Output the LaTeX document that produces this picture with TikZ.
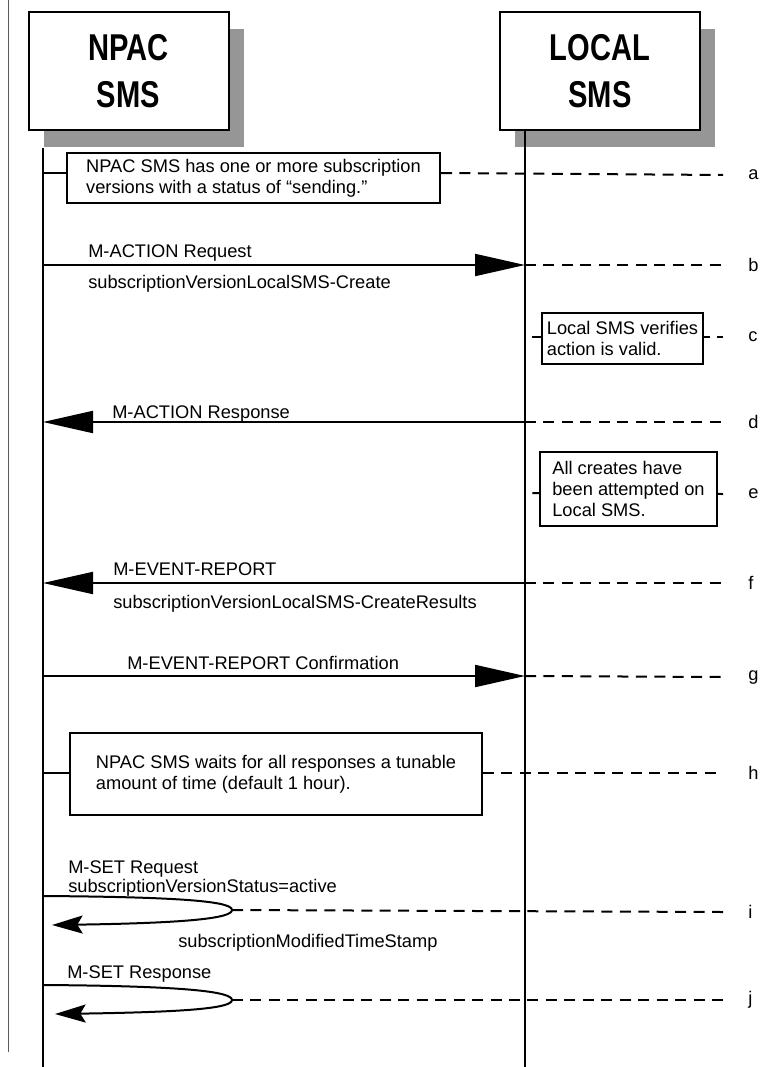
\documentclass[tikz,border=0pt]{standalone}
\usepackage{fontspec}
\setmainfont{Liberation Sans}
\usepackage{graphicx}
\usepackage{xcolor}
\usepackage{tikz}
\usetikzlibrary{arrows.meta, positioning, calc, shadows}
\definecolor{shadowgray}{RGB}{150, 150, 150}
\definecolor{rulegray}{RGB}{90, 90, 90}
\newcommand{\sysname}[1]{\scalebox{0.78}[1]{#1}}

\begin{document}
\begin{tikzpicture}[x=0.75pt, y=-0.75pt,
    font=\fontsize{13.7}{16}\selectfont,
    sysbox/.style={draw, line width=1.5pt, fill=white, minimum width=150pt, minimum height=88.5pt,
                   align=center, font=\bfseries\fontsize{28}{35}\selectfont,
                   drop shadow={shadow xshift=11.25pt, shadow yshift=-12.75pt, fill=shadowgray, opacity=1}},
    notebox/.style={draw, line width=1.5pt, fill=white, align=left, inner sep=2pt},
    lifeline/.style={line width=1.5pt},
    msg/.style={line width=1.5pt, -{Triangle[length=37.5pt, width=16.5pt]}},
    selfmsg/.style={line width=1.5pt, -{Stealth[length=23pt, width=13.5pt, inset=4pt]}},
    guide/.style={line width=1.5pt, dash pattern=on 8.25pt off 5.6pt},
    msgtext/.style={anchor=base west, inner sep=0pt},
    steplabel/.style={anchor=west, inner sep=0pt}
]
\useasboundingbox (0,0) rectangle (762,1067);

% Left rule
\coordinate (ruleTop) at (8,0);
\coordinate (ruleEnd) at (8,1052);
\draw[rulegray, line width=0.75pt] (ruleTop) -- (ruleEnd);

% Systems
\node[sysbox] (npac) at (128.5,71) {\sysname{NPAC}\\\sysname{SMS}};
\node[sysbox] (local) at (600,71) {\sysname{LOCAL}\\\sysname{SMS}};

% Lifelines
\coordinate (npacTop) at (43,148);
\coordinate (npacEnd) at (43,1067);
\coordinate (localTop) at (525,130);
\coordinate (localEnd) at (525,1067);
\draw[lifeline] (npacTop) -- (npacEnd);
\draw[lifeline] (localTop) -- (localEnd);

% Step labels
\node[steplabel] (la) at (748,175) {a};
\node[steplabel] (lb) at (748,265) {b};
\node[steplabel] (lc) at (748,337) {c};
\node[steplabel] (ld) at (748,422) {d};
\node[steplabel] (le) at (748,494) {e};
\node[steplabel] (lf) at (748,583) {f};
\node[steplabel] (lg) at (748,677) {g};
\node[steplabel] (lh) at (748,773) {h};
\node[steplabel] (li) at (748,912) {i};
\node[steplabel] (lj) at (748,1000) {j};

% a: subscription versions sending
\node[notebox, minimum width=279.75pt, minimum height=37.5pt] (noteA) at (253.5,178)
    {NPAC SMS has one or more subscription\\versions with a status of “sending.”};
\coordinate (aN) at (43,173);
\draw[lifeline] (aN) -- (aN -| noteA.west);
\draw[guide] (aN -| noteA.east) -- ([xshift=-18.75pt]la.west);

% b: M-ACTION Request
\coordinate (bN) at (43,265);
\coordinate (bL) at (525,265);
\draw[msg] (bN) -- (bL);
\draw[guide] (bL) -- ([xshift=-18.75pt]lb.west);
\node[msgtext] (tb1) at (88,257) {M-ACTION Request};
\node[msgtext] (tb2) at (88,288) {subscriptionVersionLocalSMS-Create};

% c: Local SMS verifies
\coordinate (cL) at (525,337);
\draw[guide, dash phase=8.25pt] (cL) -- ([xshift=-18.75pt]lc.west);
\node[notebox, minimum width=120.75pt, minimum height=38.25pt] (noteC) at (622.5,338.5)
    {Local SMS verifies\\action is valid.};

% d: M-ACTION Response
\coordinate (dN) at (43,422);
\coordinate (dL) at (525,422);
\draw[msg] (dL) -- (dN);
\draw[guide] (dL) -- ([xshift=-18.75pt]ld.west);
\node[msgtext] (td) at (112,418) {M-ACTION Response};

% e: all creates attempted
\coordinate (eL) at (525,493);
\draw[guide, dash phase=8.25pt] (eL) -- ([xshift=-18.75pt]le.west);
\node[notebox, minimum width=132.75pt, minimum height=55.5pt] (noteE) at (628.5,489)
    {All creates have\\been attempted on\\Local SMS.};

% f: M-EVENT-REPORT
\coordinate (fN) at (43,583);
\coordinate (fL) at (525,583);
\draw[msg] (fL) -- (fN);
\draw[guide] (fL) -- ([xshift=-18.75pt]lf.west);
\node[msgtext] (tf1) at (113,575) {M-EVENT-REPORT};
\node[msgtext] (tf2) at (113,608) {subscriptionVersionLocalSMS-CreateResults};

% g: M-EVENT-REPORT Confirmation
\coordinate (gN) at (43,676);
\coordinate (gL) at (525,676);
\draw[msg] (gN) -- (gL);
\draw[guide] (gL) -- ([xshift=-18.75pt]lg.west);
\node[msgtext] (tg) at (127,669) {M-EVENT-REPORT Confirmation};

% h: waiting for responses
\node[notebox, minimum width=309pt, minimum height=61.5pt] (noteH) at (276,774)
    {NPAC SMS waits for all responses a tunable\\amount of time (default 1 hour).};
\coordinate (hN) at (43,773);
\draw[lifeline] (hN) -- (hN -| noteH.west);
\draw[guide] (hN -| noteH.east) -- ([xshift=-18.75pt]lh.west);

% i: M-SET Request
\coordinate (iS) at (43,896);
\coordinate (iT) at (232,910);
\coordinate (iE) at (52,925);
\draw[selfmsg] (iS) .. controls (190,897) and (232,902) .. (iT) .. controls (232,918) and (190,923) .. (iE);
\draw[guide] (iT) -- ([xshift=-18.75pt]li.west);
\node[msgtext] (ti1) at (68,873) {M-SET Request};
\node[msgtext] (ti2) at (68,892) {subscriptionVersionStatus=active};
\node[msgtext] (ti3) at (178,947) {subscriptionModifiedTimeStamp};

% j: M-SET Response
\coordinate (jS) at (43,985);
\coordinate (jT) at (232,1000);
\coordinate (jE) at (55,1014);
\draw[selfmsg] (jS) .. controls (190,986) and (232,992) .. (jT) .. controls (232,1008) and (190,1012) .. (jE);
\draw[guide] (jT) -- ([xshift=-18.75pt]lj.west);
\node[msgtext] (tj) at (67,978) {M-SET Response};

\end{tikzpicture}
\end{document}
